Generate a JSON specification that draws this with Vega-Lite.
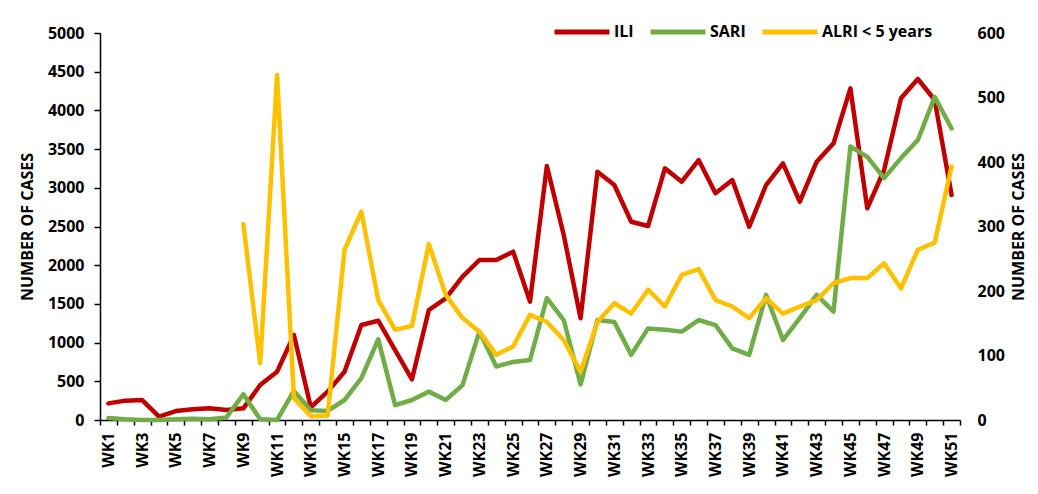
{
  "$schema": "https://vega.github.io/schema/vega-lite/v6.json",
  "width": 860,
  "height": 387,
  "autosize": {"type": "none"},
  "padding": {"left": 100, "top": 33, "right": 78, "bottom": 74},
  "background": "white",
  "config": {
    "font": "Open Sans",
    "view": {"stroke": null},
    "axis": {
      "labelFont": "Open Sans",
      "labelFontWeight": "bold",
      "labelFontSize": 16,
      "labelColor": "black",
      "titleFont": "Open Sans",
      "titleFontWeight": "bold",
      "titleFontSize": 16,
      "titleColor": "black",
      "grid": false,
      "domainColor": "black",
      "domainWidth": 1.5,
      "tickColor": "black",
      "tickWidth": 1.5
    },
    "legend": {
      "labelFont": "Open Sans",
      "labelFontWeight": "bold",
      "labelFontSize": 16,
      "labelColor": "black"
    }
  },
  "data": {
    "values": [
      {"wk": "WK1", "ILI": 215, "SARI": 3, "ALRI < 5 years": null},
      {"wk": "WK2", "ILI": 250, "SARI": 1, "ALRI < 5 years": null},
      {"wk": "WK3", "ILI": 258, "SARI": 0, "ALRI < 5 years": null},
      {"wk": "WK4", "ILI": 43, "SARI": 0, "ALRI < 5 years": null},
      {"wk": "WK5", "ILI": 116, "SARI": 1, "ALRI < 5 years": null},
      {"wk": "WK6", "ILI": 138, "SARI": 2, "ALRI < 5 years": null},
      {"wk": "WK7", "ILI": 151, "SARI": 1, "ALRI < 5 years": null},
      {"wk": "WK8", "ILI": 129, "SARI": 4, "ALRI < 5 years": null},
      {"wk": "WK9", "ILI": 151, "SARI": 40, "ALRI < 5 years": 304},
      {"wk": "WK10", "ILI": 452, "SARI": 1, "ALRI < 5 years": 88},
      {"wk": "WK11", "ILI": 624, "SARI": 0, "ALRI < 5 years": 535},
      {"wk": "WK12", "ILI": 1098, "SARI": 45, "ALRI < 5 years": 34},
      {"wk": "WK13", "ILI": 165, "SARI": 15, "ALRI < 5 years": 6},
      {"wk": "WK14", "ILI": 366, "SARI": 14, "ALRI < 5 years": 7},
      {"wk": "WK15", "ILI": 624, "SARI": 31, "ALRI < 5 years": 264},
      {"wk": "WK16", "ILI": 1227, "SARI": 65, "ALRI < 5 years": 323},
      {"wk": "WK17", "ILI": 1283, "SARI": 125, "ALRI < 5 years": 186},
      {"wk": "WK18", "ILI": 904, "SARI": 23, "ALRI < 5 years": 140},
      {"wk": "WK19", "ILI": 526, "SARI": 31, "ALRI < 5 years": 146},
      {"wk": "WK20", "ILI": 1421, "SARI": 44, "ALRI < 5 years": 273},
      {"wk": "WK21", "ILI": 1572, "SARI": 31, "ALRI < 5 years": 194},
      {"wk": "WK22", "ILI": 1852, "SARI": 54, "ALRI < 5 years": 158},
      {"wk": "WK23", "ILI": 2067, "SARI": 137, "ALRI < 5 years": 137},
      {"wk": "WK24", "ILI": 2067, "SARI": 83, "ALRI < 5 years": 101},
      {"wk": "WK25", "ILI": 2175, "SARI": 90, "ALRI < 5 years": 114},
      {"wk": "WK26", "ILI": 1529, "SARI": 93, "ALRI < 5 years": 163},
      {"wk": "WK27", "ILI": 3282, "SARI": 189, "ALRI < 5 years": 152},
      {"wk": "WK28", "ILI": 2390, "SARI": 155, "ALRI < 5 years": 124},
      {"wk": "WK29", "ILI": 1314, "SARI": 55, "ALRI < 5 years": 75},
      {"wk": "WK30", "ILI": 3208, "SARI": 155, "ALRI < 5 years": 152},
      {"wk": "WK31", "ILI": 3036, "SARI": 152, "ALRI < 5 years": 181},
      {"wk": "WK32", "ILI": 2562, "SARI": 101, "ALRI < 5 years": 165},
      {"wk": "WK33", "ILI": 2506, "SARI": 142, "ALRI < 5 years": 202},
      {"wk": "WK34", "ILI": 3251, "SARI": 140, "ALRI < 5 years": 176},
      {"wk": "WK35", "ILI": 3079, "SARI": 137, "ALRI < 5 years": 225},
      {"wk": "WK36", "ILI": 3359, "SARI": 155, "ALRI < 5 years": 234},
      {"wk": "WK37", "ILI": 2929, "SARI": 147, "ALRI < 5 years": 186},
      {"wk": "WK38", "ILI": 3100, "SARI": 111, "ALRI < 5 years": 176},
      {"wk": "WK39", "ILI": 2498, "SARI": 101, "ALRI < 5 years": 158},
      {"wk": "WK40", "ILI": 3036, "SARI": 194, "ALRI < 5 years": 189},
      {"wk": "WK41", "ILI": 3316, "SARI": 124, "ALRI < 5 years": 165},
      {"wk": "WK42", "ILI": 2820, "SARI": 158, "ALRI < 5 years": 176},
      {"wk": "WK43", "ILI": 3337, "SARI": 194, "ALRI < 5 years": 186},
      {"wk": "WK44", "ILI": 3575, "SARI": 168, "ALRI < 5 years": 212},
      {"wk": "WK45", "ILI": 4285, "SARI": 424, "ALRI < 5 years": 220},
      {"wk": "WK46", "ILI": 2735, "SARI": 408, "ALRI < 5 years": 220},
      {"wk": "WK47", "ILI": 3230, "SARI": 375, "ALRI < 5 years": 243},
      {"wk": "WK48", "ILI": 4156, "SARI": 406, "ALRI < 5 years": 204},
      {"wk": "WK49", "ILI": 4406, "SARI": 434, "ALRI < 5 years": 264},
      {"wk": "WK50", "ILI": 4134, "SARI": 501, "ALRI < 5 years": 275},
      {"wk": "WK51", "ILI": 2907, "SARI": 452, "ALRI < 5 years": 393}
    ]
  },
  "transform": [
    {"fold": ["ILI", "SARI", "ALRI < 5 years"], "as": ["series", "value"]}
  ],
  "encoding": {
    "x": {
      "field": "wk",
      "type": "ordinal",
      "sort": ["WK1","WK2","WK3","WK4","WK5","WK6","WK7","WK8","WK9","WK10","WK11","WK12","WK13","WK14","WK15","WK16","WK17","WK18","WK19","WK20","WK21","WK22","WK23","WK24","WK25","WK26","WK27","WK28","WK29","WK30","WK31","WK32","WK33","WK34","WK35","WK36","WK37","WK38","WK39","WK40","WK41","WK42","WK43","WK44","WK45","WK46","WK47","WK48","WK49","WK50","WK51"],
      "scale": {"type": "band", "paddingInner": 0, "paddingOuter": 0},
      "bandPosition": 0.5,
      "axis": {
        "title": null,
        "tickBand": "extent",
        "labelAngle": -90,
        "labelAlign": "right",
        "labelBaseline": "middle",
        "labelPadding": 7,
        "labelOverlap": "parity",
        "labelSeparation": 4,
        "labelBound": false,
        "tickSize": 5
      }
    },
    "color": {
      "field": "series",
      "type": "nominal",
      "scale": {
        "domain": ["ILI", "SARI", "ALRI < 5 years"],
        "range": ["#C00000", "#70AD47", "#FFC000"]
      },
      "legend": {
        "title": null,
        "orient": "none",
        "direction": "horizontal",
        "gridAlign": "none",
        "legendX": 452,
        "legendY": -31,
        "symbolType": "stroke",
        "symbolSize": 3025,
        "symbolStrokeWidth": 5,
        "labelOffset": 2,
        "columnPadding": 6
      }
    }
  },
  "layer": [
    {
      "transform": [{"filter": "datum.series === 'ILI'"}],
      "mark": {"type": "line", "strokeWidth": 4.5, "strokeJoin": "round", "strokeCap": "round"},
      "encoding": {
        "y": {
          "field": "value",
          "type": "quantitative",
          "scale": {"domain": [0, 5000], "nice": false},
          "axis": {
            "title": "NUMBER OF CASES",
            "format": "d",
            "values": [0,500,1000,1500,2000,2500,3000,3500,4000,4500,5000],
            "tickSize": 6,
            "labelPadding": 10,
            "titlePadding": 12,
            "labelFlush": false
          }
        }
      }
    },
    {
      "transform": [{"filter": "datum.series !== 'ILI'"}],
      "mark": {"type": "line", "strokeWidth": 4.5, "strokeJoin": "round", "strokeCap": "round"},
      "encoding": {
        "y": {
          "field": "value",
          "type": "quantitative",
          "scale": {"domain": [0, 600], "nice": false},
          "axis": {
            "orient": "right",
            "title": "NUMBER OF CASES",
            "titleAngle": 270,
            "titleBaseline": "top",
            "format": "d",
            "values": [0,100,200,300,400,500,600],
            "domain": false,
            "ticks": false,
            "tickSize": 0,
            "labelPadding": 17,
            "titlePadding": 6,
            "labelFlush": false
          }
        }
      }
    }
  ],
  "resolve": {"scale": {"y": "independent"}}
}
